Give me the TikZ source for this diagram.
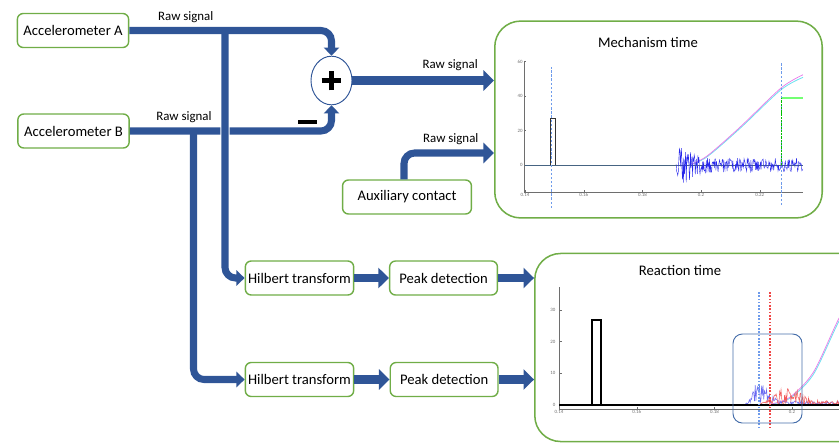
\documentclass[tikz,border=0pt]{standalone}
\usepackage{fontspec}
\setmainfont{Carlito}
\usetikzlibrary{arrows.meta, positioning, shapes.geometric}

\definecolor{boxgreen}{RGB}{112,173,71}
\definecolor{flowblue}{RGB}{47,85,151}
\definecolor{axisgray}{RGB}{110,110,110}
\definecolor{zeroline}{RGB}{70,100,130}
\definecolor{tracepink}{RGB}{232,120,232}
\definecolor{tracecyan}{RGB}{110,225,240}
\definecolor{noiseblue}{RGB}{40,40,235}
\definecolor{markblue}{RGB}{110,155,235}
\definecolor{markred}{RGB}{240,70,70}
\definecolor{framesteel}{RGB}{70,110,170}

\tikzset{
  block/.style={draw=boxgreen, line width=1.2pt, rounded corners=5pt,
    fill=white, minimum height=29pt, inner xsep=1pt,
    font=\fontsize{12.5}{14}\selectfont}, % the small green boxes
  panel/.style={draw=boxgreen, line width=1.3pt, rounded corners=22pt}, % plot frames
  heading/.style={font=\fontsize{12.5}{14}\selectfont},
  flow/.style={draw=flowblue, line width=6pt, rounded corners=9pt}, % thick signal lines
  small tip/.style={-{Triangle[width=13pt,length=7pt]}},
  big tip/.style={-{Triangle[width=17pt,length=9pt]}},
  siglabel/.style={font=\fontsize{11}{12}\selectfont, inner sep=1pt},
  ticklabel/.style={font=\fontsize{4.2}{5}\selectfont, text=axisgray, inner sep=1pt},
}

\begin{document}
\begin{tikzpicture}[x=0.03cm, y=-0.03cm]
  \clip (0,0) rectangle (839,443);

  % sources
  \node[block, minimum width=95pt] (accA) at (73,30.5) {Accelerometer A};
  \node[block, minimum width=95pt] (accB) at (73.5,131) {Accelerometer B};
  \node[draw=flowblue, line width=0.8pt, ellipse, minimum width=35pt,
    minimum height=41.5pt, inner sep=0pt] (sum) at (331.5,80.5) {};
  \node[block, minimum width=110pt] (aux) at (407,197) {Auxiliary contact};

  % processing chains
  \node[block, minimum width=92.5pt] (hilA) at (299.5,278) {Hilbert transform};
  \node[block, minimum width=92pt, right=29.5pt of hilA] (peakA) {Peak detection};
  \node[block, minimum width=92.5pt] (hilB) at (299.5,379.5) {Hilbert transform};
  \node[block, minimum width=92pt, right=30pt of hilB] (peakB) {Peak detection};

  % result panels
  \node[panel, minimum width=279.5pt, minimum height=168pt] (mech) at (658.5,119.5) {};
  \node[heading] (mechtitle) at (648,42) {Mechanism time};
  \node[panel, minimum width=311pt, minimum height=160.5pt] (react) at (717,347.5) {};
  \node[heading] (reacttitle) at (680,270) {Reaction time};

  \coordinate (splitA) at (225,30.5);
  \coordinate (splitB) at (193.5,131);
  \coordinate (auxbend) at (404,153);

  % connectors
  \draw[flow, small tip] (accB.east)
    -- node[siglabel, above=3pt, pos=0.85] {Raw signal} (splitB)
    -- (sum.south |- accB.east) -- (sum.south);
  \draw[flow, small tip, preaction={draw=white, line width=8pt}]
    (splitA) -- (splitA |- hilA.west) -- (hilA.west);
  \draw[flow, small tip] (splitB) -- (splitB |- hilB.west) -- (hilB.west);
  \draw[flow, small tip] (accA.east)
    -- node[siglabel, above=3pt, pos=0.59] {Raw signal} (splitA)
    -- (sum.north |- accA.east) -- (sum.north);
  \draw[flow, line width=7pt, big tip] (sum.east)
    -- node[siglabel, above=4pt, pos=0.69] {Raw signal} (mech.west |- sum.east);
  \draw[flow, big tip] (aux.north -| auxbend) -- (auxbend)
    -- node[siglabel, above=3pt, pos=0.52] {Raw signal} (mech.west |- auxbend);
  \draw[flow, line width=7pt, big tip] (hilA.east) -- (peakA.west);
  \draw[flow, line width=7pt, big tip] (hilB.east) -- (peakB.west);
  \draw[flow, line width=7pt, big tip] (peakA.east) -- (react.west |- peakA.east);
  \draw[flow, line width=7pt, big tip] (peakB.east) -- (react.west |- peakB.east);

  % plus and minus signs
  \draw[line width=5pt] ([xshift=-8.5pt]sum.center) -- ([xshift=8.5pt]sum.center);
  \draw[line width=5pt] ([yshift=-8.5pt]sum.center) -- ([yshift=8.5pt]sum.center);
  \draw[line width=2.6pt] (298,122) -- (317,122);

  \pgfmathsetseed{11}
  % mechanism time plot
  \begin{scope}[shift={(525,165)}, xscale=29.35, yscale=-1.725]
    \draw[axisgray, line width=0.4pt] (-0.03,60.3) -- (-0.03,-15.6) -- (9.47,-15.6);
    \foreach \v in {0,20,40,60} {
      \draw[axisgray, line width=0.3pt] (-0.03,\v) -- ++(0.08,0);
      \node[ticklabel, left] at (-0.03,\v) {\v};
    }
    \foreach \u/\lab in {0/0.14, 2/0.16, 4/0.18, 6/0.2, 8/0.22} {
      \draw[axisgray, line width=0.3pt] (\u,-15.6) -- ++(0,1.2);
      \node[ticklabel, below] at (\u,-15.6) {\lab};
    }
    \draw[zeroline, line width=0.8pt] (0,0) -- (9.47,0);
    \draw[black!80, line width=0.6pt] (0.85,0) -- (0.85,26.8) -- (1.05,26.8) -- (1.05,0);
    \draw[tracecyan, line width=0.7pt] plot[smooth] coordinates
      {(5.6,0) (6.2,4.7) (7.33,21.3) (8.72,43.6) (9.47,50.8)};
    \draw[tracepink, line width=0.6pt] plot[smooth] coordinates
      {(5.6,0) (6.2,5.2) (7.33,22) (8.72,44.6) (9.47,52.3)};
    \draw[noiseblue, line width=0.35pt] plot[domain=5.15:9.47, samples=240]
      (\x, {(4+8/(1+(abs(\x-5.35)/0.45)^4))*rand});
    \draw[markblue, line width=0.5pt, dash pattern=on 2pt off 1.5pt] (0.89,-24.9) -- (0.89,56.8);
    \draw[markblue, line width=0.5pt, dash pattern=on 2pt off 1.5pt] (8.72,-23.2) -- (8.72,59.7);
    \draw[green!75!black, line width=0.6pt, dash pattern=on 2pt off 0.8pt] (8.74,0) -- (8.74,38.8);
    \draw[green!55, line width=1.1pt] (8.74,38.8) -- (9.47,38.8);
  \end{scope}

  % reaction time plot
  \begin{scope}[shift={(559,405)}, xscale=38.85, yscale=-3.17]
    \draw[axisgray, line width=0.4pt] (0,37.2) -- (0,-1.3) -- (8.5,-1.3);
    \foreach \v in {0,10,20,30} {
      \draw[axisgray, line width=0.3pt] (0,\v) -- ++(0.07,0);
      \node[ticklabel, left=2pt] at (0,\v) {\v};
    }
    \foreach \u/\lab in {0/0.14, 2/0.16, 4/0.18, 6/0.2} {
      \draw[axisgray, line width=0.3pt] (\u,-1.3) -- ++(0,0.6);
      \node[ticklabel, below] at (\u,-1.3) {\lab};
    }
    \draw[tracecyan, line width=0.7pt] plot[smooth] coordinates
      {(5.3,0) (5.9,1.8) (6.54,9.5) (7.2,26.3) (7.8,39)};
    \draw[tracepink, line width=0.6pt] plot[smooth] coordinates
      {(5.3,0) (5.9,2.1) (6.54,10.2) (7.2,27.2) (7.8,40)};
    \draw[noiseblue!70, line width=0.45pt] plot[domain=4.5:7.6, samples=170]
      (\x, {min(1,max(0,(\x-4.7)/0.35))*(1.2+5.8/(1+(abs(\x-5.2)/0.25)^4))*(0.55+0.45*rand)});
    \draw[markred!90, line width=0.45pt] plot[domain=4.9:7.6, samples=150]
      (\x, {min(1,max(0,(\x-5.1)/0.3))*(1.3+4/(1+(abs(\x-5.9)/0.4)^4))*(0.5+0.5*rand)});
    \draw[black, line width=1pt] (0,0) -- (8.5,0);
    \draw[black, line width=1pt] (0.85,0) -- (0.85,26.8) -- (1.08,26.8) -- (1.08,0);
    \draw[markblue, line width=1.1pt, dash pattern=on 1.4pt off 1.4pt] (5.15,-7.3) -- (5.15,36);
    \draw[markred, line width=1.1pt, dash pattern=on 1.4pt off 1.4pt] (5.43,-7.3) -- (5.43,36);
  \end{scope}
  \draw[framesteel, line width=0.8pt, rounded corners=8pt] (733,334) rectangle (802,423);
\end{tikzpicture}
\end{document}
